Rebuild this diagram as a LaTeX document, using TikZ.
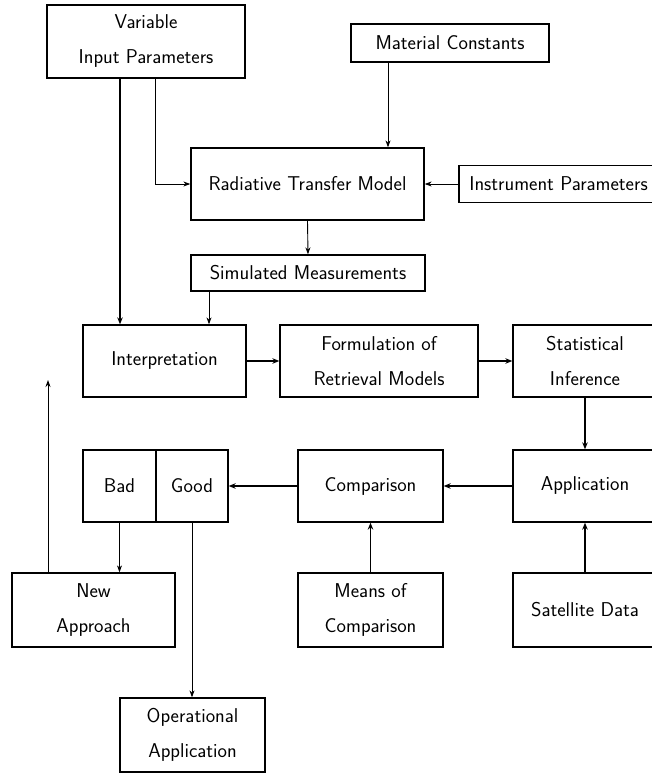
\documentclass[tikz,border=0pt]{standalone}
\usetikzlibrary{arrows.meta}
\begin{document}
\begin{tikzpicture}[x=1pt,y=-1pt,
  box/.style={draw, line width=1.3pt, inner sep=0pt, align=center,
    font=\fontsize{20}{35}\selectfont\sffamily},
  arr/.style={line width=0.9pt, -{Stealth[length=7pt,width=5pt]}},
  thickarr/.style={line width=1.6pt, -{Stealth[length=7pt,width=5.5pt]}}]
\useasboundingbox (0,0) rectangle (652,774);
% nodes
\node[box, minimum width=198, minimum height=73] (vip) at (146,41.5) {Variable\\Input Parameters};
\node[box, minimum width=198, minimum height=38] (mc) at (450,43) {Material Constants};
\node[box, minimum width=233, minimum height=72] (rtm) at (307.5,184) {Radiative Transfer Model};
\node[box, minimum width=199, minimum height=37] (ip) at (558.5,184) {Instrument Parameters};
\node[box, minimum width=234, minimum height=36] (sm) at (308,273) {Simulated Measurements};
\node[box, minimum width=163, minimum height=72] (interp) at (164.5,361) {Interpretation};
\node[box, minimum width=198, minimum height=72] (form) at (379,361) {Formulation of\\Retrieval Models};
\node[box, minimum width=144, minimum height=72] (stat) at (585,361) {Statistical\\Inference};
\node[box, minimum width=144, minimum height=72] (app) at (585,486) {Application};
\node[box, minimum width=145, minimum height=72] (comp) at (370.5,486) {Comparison};
\node[box, minimum width=73, minimum height=72] (bad) at (119.5,486) {Bad};
\node[box, minimum width=72, minimum height=72] (good) at (192,486) {Good};
\node[box, minimum width=163, minimum height=74] (na) at (93.5,610) {New\\Approach};
\node[box, minimum width=145, minimum height=74] (means) at (370.5,610) {Means of\\Comparison};
\node[box, minimum width=144, minimum height=74] (sat) at (585,610) {Satellite Data};
\node[box, minimum width=145, minimum height=74] (op) at (192.5,735) {Operational\\Application};
% helper coordinates
\coordinate (x120) at (120,0);
\coordinate (x155) at (155,0);
\coordinate (x388) at (388,0);
\coordinate (x209) at (209,0);
\coordinate (fb) at (48,380);
% connectors
\draw[thickarr] (vip.south -| x120) -- (interp.north -| x120);
\draw[arr] (vip.south -| x155) |- (rtm.west);
\draw[arr] (mc.south -| x388) -- (rtm.north -| x388);
\draw[arr] (ip.west) -- (rtm.east);
\draw[arr] (rtm.south) -- (sm.north);
\draw[arr] (sm.south -| x209) -- (interp.north -| x209);
\draw[thickarr] (interp.east) -- (form.west);
\draw[thickarr] (form.east) -- (stat.west);
\draw[thickarr] (stat.south) -- (app.north);
\draw[thickarr] (app.west) -- (comp.east);
\draw[thickarr] (comp.west) -- (good.east);
\draw[thickarr] (means.north) -- (comp.south);
\draw[thickarr] (sat.north) -- (app.south);
\draw[arr] (bad.south) -- (bad.south |- na.north);
\draw[arr] (good.south) -- (good.south |- op.north);
\draw[arr] (na.north -| fb) -- (fb);
\end{tikzpicture}
\end{document}
